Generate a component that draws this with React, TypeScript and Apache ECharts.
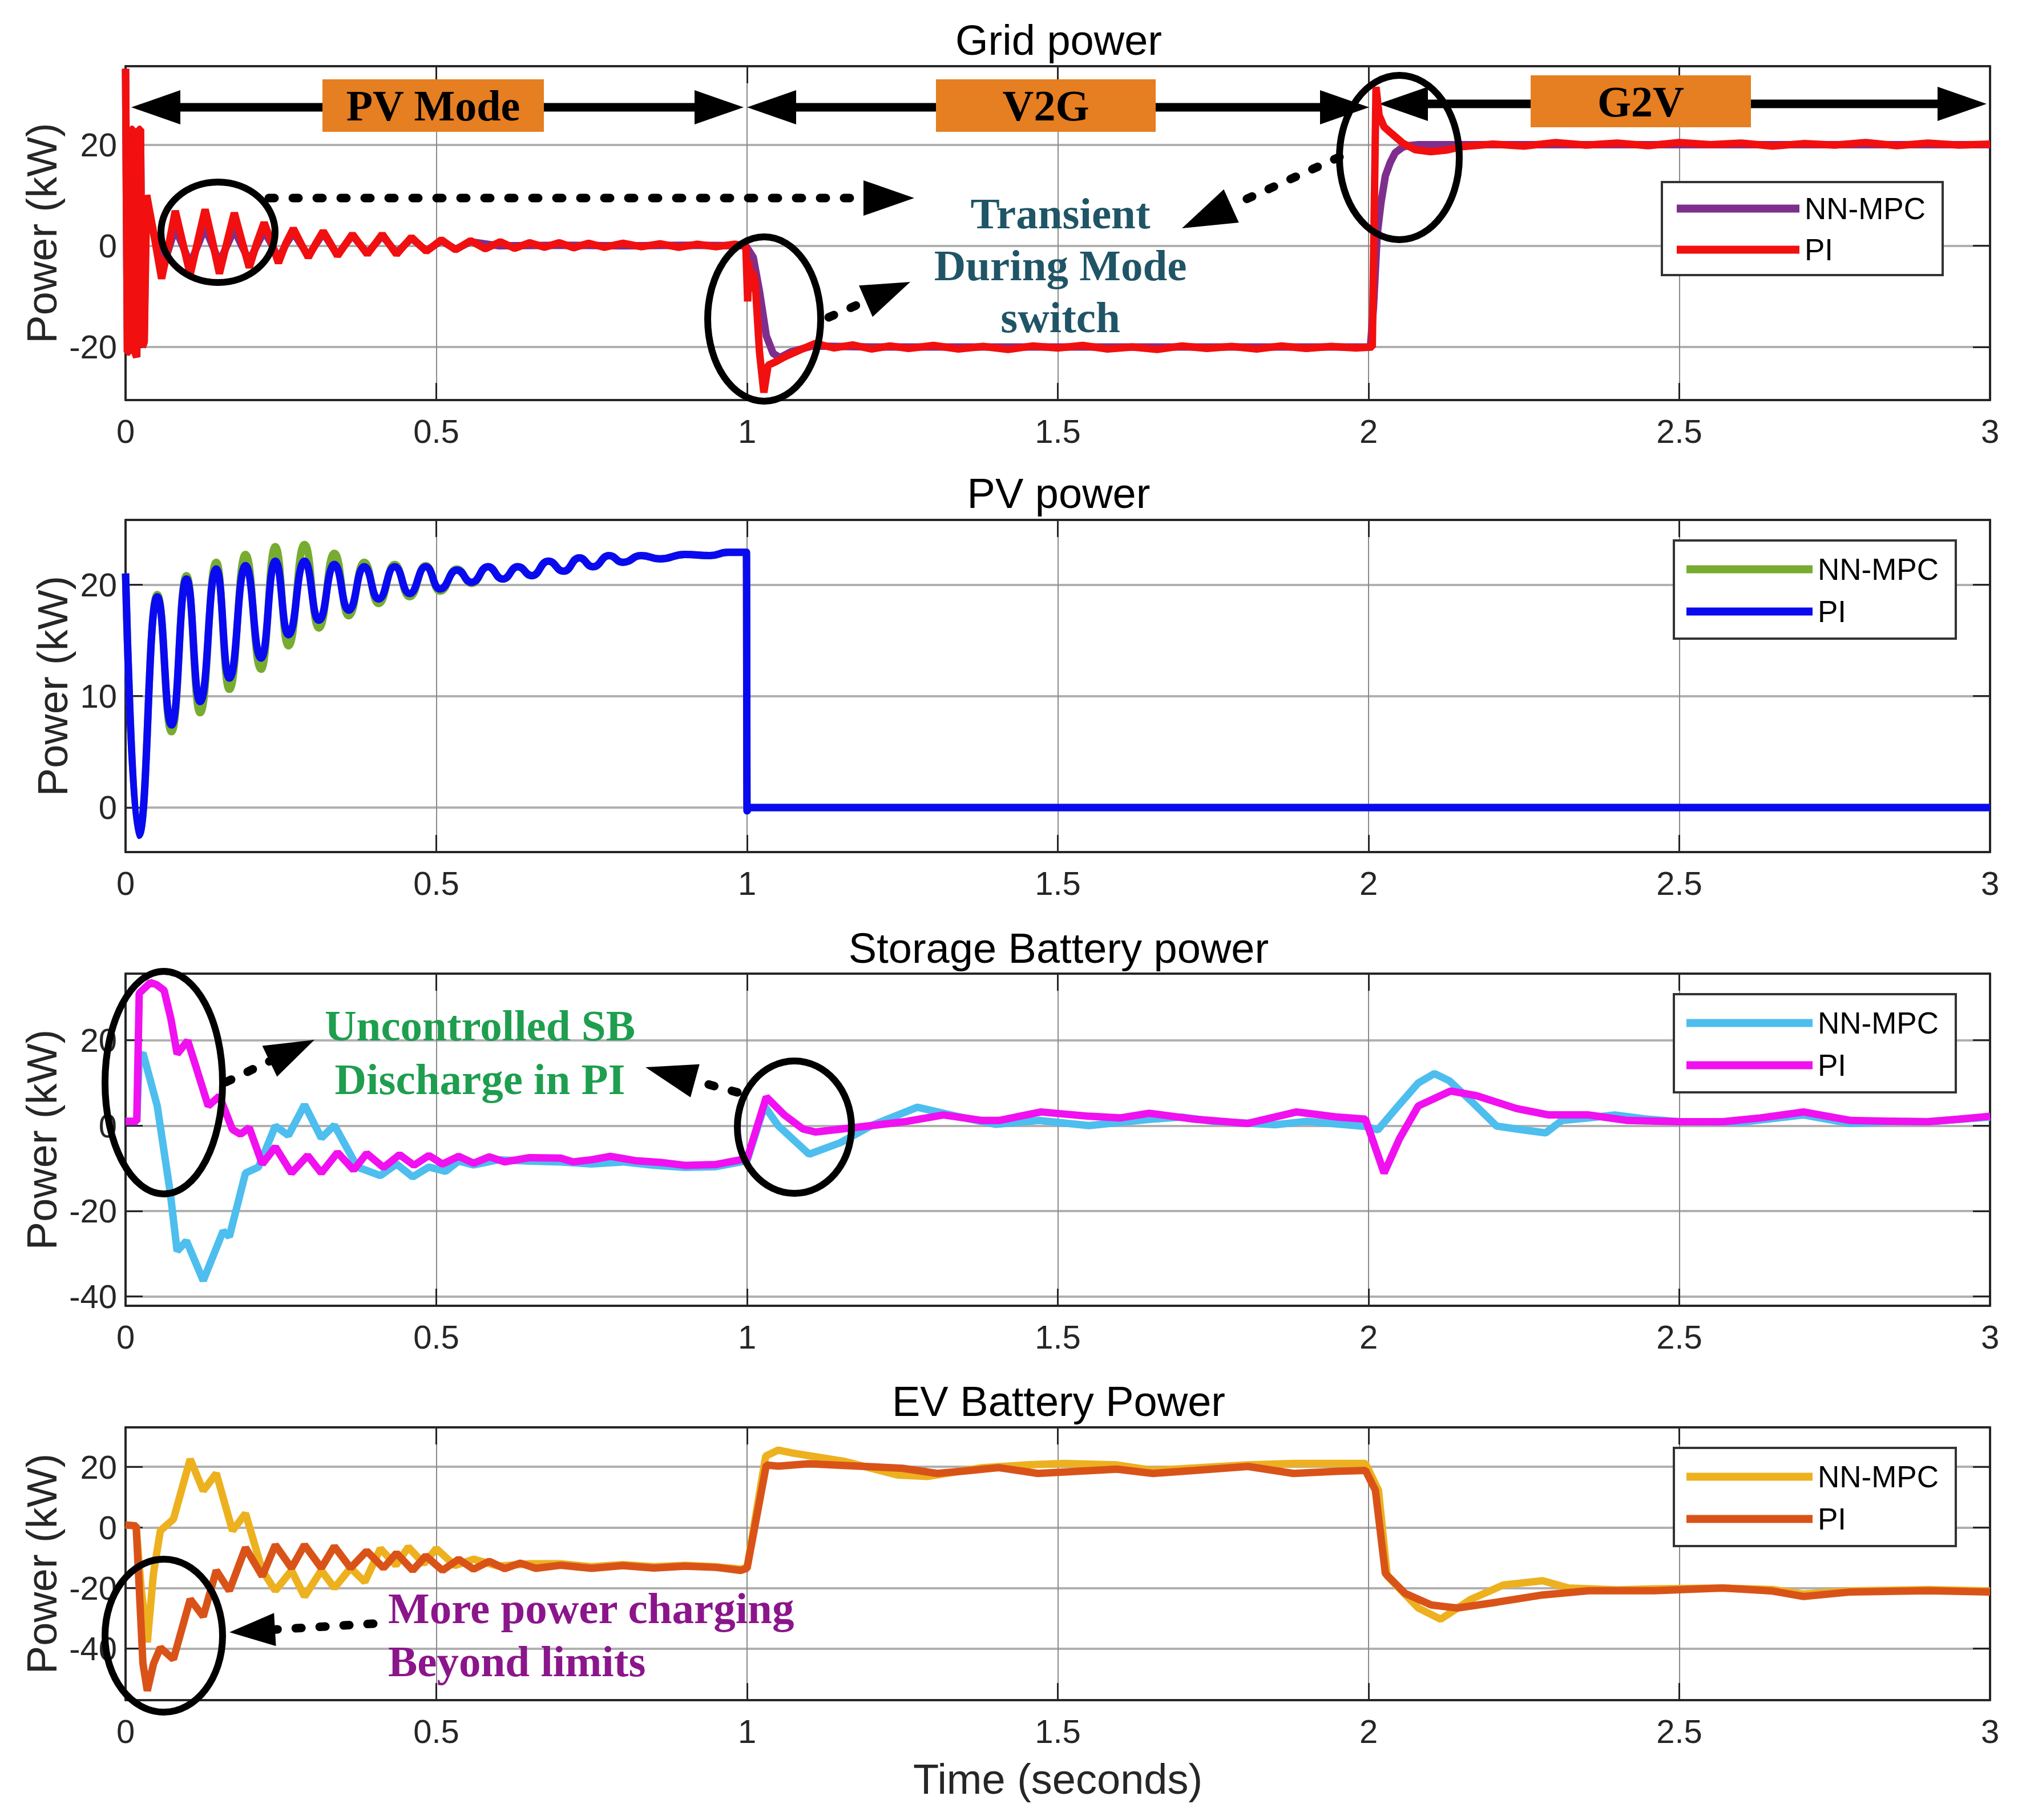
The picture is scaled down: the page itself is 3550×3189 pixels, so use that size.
import React, { useEffect, useRef } from 'react';
import * as echarts from 'echarts';

// ---------------- DATA ----------------
const xTicks = [0, 0.5, 1, 1.5, 2, 2.5, 3];
const gridYTicks = [-20, 0, 20];
const pvYTicks = [0, 10, 20];
const sbYTicks = [-40, -20, 0, 20];
const evYTicks = [-40, -20, 0, 20];

const panelTitles = ['Grid power', 'PV power', 'Storage Battery power', 'EV Battery Power'];
const legendLabels = ['NN-MPC', 'PI'];

// Grid power (kW) vs time (s)
const gridPI: [number, number][] = [
  [0, 35], [0.003, -21], [0.006, -21], [0.009, 23], [0.012, 23], [0.015, -21], [0.018, -22], [0.021, 23], [0.024, 23],
  [0.027, -20], [0.03, -19], [0.034, 10], [0.04, 6], [0.046, 2], [0.058, -6.5], [0.07, 0.5], [0.08, 6.9], [0.092, 0.6],
  [0.104, -5.7], [0.116, 0.8], [0.128, 7.2], [0.14, 0.8], [0.151, -5.5], [0.163, 0.6], [0.175, 6.5], [0.187, 1],
  [0.199, -4.3], [0.211, 0.5], [0.223, 4.6], [0.235, 0.6], [0.246, -3.4], [0.258, 0.5], [0.27, 3.4], [0.282, 0.5],
  [0.294, -2.3], [0.306, 0.4], [0.318, 2.9], [0.33, 0.4], [0.341, -2.0], [0.365, 2.3], [0.389, -1.7], [0.413, 2.3],
  [0.436, -1.7], [0.46, 1.7], [0.484, -1.1], [0.508, 1.2], [0.531, -0.8], [0.555, 1.0], [0.579, -0.6], [0.603, 0.8],
  [0.626, -0.5], [0.65, 0.6], [0.674, -0.3], [0.698, 0.6], [0.721, -0.4], [0.745, 0.5], [0.77, -0.3], [0.8, 0.5],
  [0.83, -0.2], [0.86, 0.4], [0.89, -0.3], [0.92, 0.3], [0.95, -0.2], [0.98, 0.3], [0.998, 0], [1.001, -11],
  [1.003, -3], [1.006, -9], [1.009, -5], [1.013, -7], [1.02, -21], [1.027, -29], [1.034, -23.6], [1.045, -23],
  [1.06, -22], [1.085, -20.6], [1.11, -19.3], [1.14, -20.2], [1.17, -19.6], [1.2, -20.4], [1.23, -19.8], [1.26, -20.3],
  [1.3, -19.7], [1.34, -20.4], [1.38, -19.9], [1.42, -20.5], [1.46, -19.8], [1.5, -20.2], [1.54, -19.7], [1.58, -20.4],
  [1.62, -20], [1.66, -20.5], [1.7, -19.8], [1.74, -20.3], [1.78, -19.9], [1.82, -20.4], [1.86, -19.8], [1.9, -20.3],
  [1.94, -19.9], [1.98, -20.2], [2.006, -20], [2.012, 31.4], [2.017, 25.8], [2.025, 23.5], [2.038, 22.1], [2.055, 20.3],
  [2.075, 19.0], [2.1, 18.6], [2.125, 18.9], [2.15, 19.6], [2.2, 20.1], [2.25, 19.7], [2.3, 20.4], [2.35, 19.9],
  [2.4, 20.3], [2.45, 19.8], [2.5, 20.4], [2.55, 20.0], [2.6, 20.3], [2.65, 19.7], [2.7, 20.2], [2.75, 19.9],
  [2.8, 20.4], [2.85, 19.8], [2.9, 20.3], [2.95, 19.9], [3, 20.1],
];
const gridNN: [number, number][] = [
  [0, 35], [0.003, -21], [0.006, -21], [0.009, 23], [0.012, 23], [0.015, -21], [0.018, -22], [0.021, 23], [0.024, 23],
  [0.027, -20], [0.03, -19], [0.033, 9], [0.04, 5], [0.05, 0], [0.062, -3.5], [0.08, 3.5], [0.092, 0], [0.104, -3.6],
  [0.116, 0], [0.128, 3.6], [0.14, 0], [0.151, -3.3], [0.163, 0], [0.175, 3.2], [0.187, 0], [0.199, -3], [0.211, 0],
  [0.223, 2.9], [0.235, 0.3], [0.246, -2.6], [0.258, 0.3], [0.27, 2.6], [0.282, 0.3], [0.294, -2.0], [0.318, 2.5],
  [0.341, -1.8], [0.365, 2.1], [0.389, -1.5], [0.413, 2.0], [0.436, -1.4], [0.46, 1.5], [0.484, -1.0], [0.508, 1.0],
  [0.531, -0.7], [0.555, 0.8], [0.6, 0], [0.7, 0.1], [0.8, 0], [0.9, 0.1], [0.998, 0], [1.01, -2.3], [1.02, -9],
  [1.031, -17.8], [1.042, -21.3], [1.053, -22.1], [1.07, -21], [1.105, -19.8], [1.2, -20], [1.5, -20], [1.8, -20],
  [2.003, -20], [2.008, -12], [2.014, 2.3], [2.02, 8.5], [2.027, 13.8], [2.035, 16.5], [2.043, 18.4], [2.055, 19.5],
  [2.064, 19.8], [2.08, 20], [2.5, 20], [3, 20],
];

// PV power (peaks and troughs of the oscillation)
const pvPI: [number, number][] = [
  [0, 21], [0.021, -2.5], [0.051, 18.9], [0.074, 7.4], [0.098, 20.5], [0.12, 9.5], [0.146, 21.4], [0.167, 11.6],
  [0.193, 21.7], [0.218, 13.4], [0.241, 22.1], [0.262, 15.5], [0.288, 22.1], [0.311, 16.8], [0.336, 21.8],
  [0.359, 17.7], [0.384, 21.6], [0.407, 18.7], [0.433, 21.6], [0.457, 19.2], [0.483, 21.6], [0.506, 19.6],
  [0.533, 21.3], [0.557, 20.2], [0.583, 21.6], [0.607, 20.5], [0.631, 21.6], [0.654, 20.8], [0.68, 22.1],
  [0.705, 21.2], [0.73, 22.4], [0.752, 21.6], [0.778, 22.6], [0.8, 22.0], [0.83, 22.6], [0.86, 22.3], [0.9, 22.7],
  [0.94, 22.6], [0.97, 22.9], [0.999, 22.9], [1.0, -0.3], [1.003, 0], [3, 0],
];
const pvNN: [number, number][] = [
  [0, 21], [0.021, -2.5], [0.051, 19.1], [0.074, 6.8], [0.098, 20.8], [0.12, 8.5], [0.146, 22], [0.167, 10.6],
  [0.193, 22.7], [0.218, 12.4], [0.241, 23.4], [0.262, 14.5], [0.288, 23.6], [0.311, 16.1], [0.336, 22.8],
  [0.359, 17.2], [0.384, 22.0], [0.407, 18.3], [0.433, 21.8], [0.457, 18.9], [0.483, 21.7], [0.506, 19.4],
  [0.533, 21.4], [0.557, 20.1], [0.583, 21.6], [0.607, 20.5], [0.631, 21.6], [0.654, 20.8], [0.68, 22.1],
  [0.705, 21.2], [0.73, 22.4], [0.752, 21.6], [0.778, 22.6], [0.8, 22.0], [0.83, 22.6], [0.86, 22.3], [0.9, 22.7],
  [0.94, 22.6], [0.97, 22.9], [0.999, 22.9], [1.0, -0.3], [1.003, 0], [3, 0],
];

// Storage battery power
const sbPI: [number, number][] = [
  [0, 1], [0.018, 1], [0.022, 31], [0.04, 33.5], [0.05, 33], [0.062, 31.7], [0.073, 25], [0.083, 16.8], [0.1, 19.9],
  [0.115, 13], [0.133, 4.6], [0.151, 6.9], [0.172, -0.9], [0.185, -2], [0.199, -0.5], [0.22, -9], [0.241, -5],
  [0.267, -11.1], [0.293, -7], [0.315, -11.1], [0.341, -6.3], [0.367, -10.4], [0.388, -6.5], [0.415, -9.8], [0.441, -6.8],
  [0.464, -9.3], [0.488, -7], [0.51, -9], [0.536, -7.2], [0.56, -8.8], [0.585, -7.3], [0.61, -8.5], [0.65, -7.5],
  [0.7, -7.6], [0.72, -8.5], [0.75, -8], [0.78, -7.2], [0.82, -8.2], [0.86, -8.6], [0.9, -9.3], [0.95, -9.1], [0.99, -8],
  [1.0, -7.8], [1.031, 6.7], [1.06, 2.5], [1.09, -0.8], [1.11, -1.5], [1.17, -0.5], [1.253, 0.9], [1.316, 2.5],
  [1.379, 1.2], [1.405, 1.2], [1.473, 3.2], [1.55, 2.2], [1.6, 1.8], [1.647, 2.9], [1.72, 1.5], [1.805, 0.5],
  [1.884, 3.2], [1.95, 2.0], [1.995, 1.5], [2.025, -11.1], [2.05, -3], [2.08, 4.6], [2.132, 8.1], [2.174, 7],
  [2.238, 4], [2.29, 2.5], [2.354, 2.5], [2.417, 1.2], [2.501, 0.9], [2.57, 0.9], [2.63, 1.8], [2.7, 3.2], [2.776, 1.2],
  [2.85, 1.0], [2.9, 0.9], [2.95, 1.5], [3, 2.2],
];
const sbNN: [number, number][] = [
  [0, 1], [0.018, 1], [0.022, 16], [0.028, 17], [0.051, 4.6], [0.072, -15.8], [0.083, -29.4], [0.098, -27],
  [0.125, -36.3], [0.157, -24.7], [0.167, -26], [0.193, -11.1], [0.214, -9.7], [0.241, -0.1], [0.262, -2.3],
  [0.288, 4.9], [0.315, -2.9], [0.336, 0.1], [0.373, -9.7], [0.41, -11.7], [0.436, -9], [0.462, -12], [0.488, -9.7],
  [0.515, -10.7], [0.536, -8.3], [0.56, -9.2], [0.6, -8], [0.65, -8.3], [0.7, -8.5], [0.75, -9], [0.8, -8.5],
  [0.85, -9.3], [0.9, -9.8], [0.95, -9.6], [0.99, -8.5], [1.0, -8.2], [1.028, 4.6], [1.05, 0], [1.1, -6.7], [1.15, -4],
  [1.2, 0], [1.274, 4.3], [1.337, 2.2], [1.4, 0.3], [1.47, 1.2], [1.55, 0], [1.65, 1.5], [1.7, 2.0], [1.75, 1.0],
  [1.85, 0.2], [1.9, 1.0], [1.995, -0.2], [2.015, -1], [2.05, 5], [2.08, 10], [2.106, 12.2], [2.13, 10.5], [2.164, 5.9],
  [2.206, -0.1], [2.248, -1.0], [2.285, -1.7], [2.311, 1.2], [2.354, 1.8], [2.396, 2.5], [2.45, 1.5], [2.5, 0.9],
  [2.6, 0.8], [2.7, 2.5], [2.776, 0.5], [2.85, 1.0], [2.9, 0.9], [3, 2.0],
];

// EV battery power
const evPI: [number, number][] = [
  [0, 0.8], [0.017, 0.5], [0.022, -20], [0.028, -45], [0.035, -53.9], [0.045, -45], [0.056, -39.7], [0.077, -43.5],
  [0.104, -23.7], [0.125, -29.4], [0.146, -14.2], [0.167, -20.9], [0.193, -6.7], [0.22, -16.1], [0.241, -5.8],
  [0.267, -13.4], [0.288, -5.8], [0.315, -13.4], [0.336, -6.3], [0.362, -13.4], [0.388, -7.8], [0.415, -13.4],
  [0.436, -8.5], [0.462, -14.2], [0.483, -9.4], [0.51, -14.2], [0.536, -10.5], [0.56, -13.8], [0.585, -11.2],
  [0.61, -13.6], [0.635, -11.8], [0.66, -13.5], [0.7, -12.5], [0.75, -13.5], [0.8, -12.6], [0.85, -13.4], [0.9, -12.8],
  [0.95, -13.2], [0.99, -14.2], [1.0, -13.5], [1.031, 20.6], [1.05, 20.2], [1.1, 21], [1.15, 20.5], [1.2, 20],
  [1.25, 19.5], [1.306, 17.8], [1.35, 18.6], [1.405, 19.7], [1.468, 17.8], [1.595, 19.2], [1.653, 17.8], [1.72, 18.8],
  [1.806, 20.1], [1.879, 17.8], [1.95, 18.5], [1.995, 18.8], [2.011, 12.2], [2.027, -15.2], [2.059, -21.8],
  [2.101, -25.6], [2.143, -26.6], [2.206, -24.7], [2.28, -22.3], [2.354, -20.9], [2.46, -20.9], [2.57, -20],
  [2.65, -21], [2.7, -22.8], [2.776, -21.3], [2.9, -20.9], [3, -21.3],
];
const evNN: [number, number][] = [
  [0, 0.8], [0.017, 0.5], [0.025, -20], [0.035, -37.9], [0.045, -15], [0.056, -1.1], [0.077, 2.7], [0.104, 22.5],
  [0.125, 12.1], [0.146, 17.8], [0.172, -1.1], [0.193, 4.6], [0.22, -14.2], [0.241, -20.9], [0.267, -14.2],
  [0.288, -22.8], [0.315, -14.2], [0.336, -20], [0.362, -13.4], [0.385, -18], [0.41, -7], [0.435, -12.5], [0.455, -6.5],
  [0.48, -12], [0.5, -7], [0.53, -12.6], [0.56, -10.5], [0.6, -12.8], [0.65, -12], [0.7, -12], [0.75, -13], [0.8, -12.3],
  [0.85, -13], [0.9, -12.5], [0.95, -13], [0.99, -13.8], [1.0, -13.2], [1.03, 23.5], [1.05, 25.5], [1.074, 24.5],
  [1.158, 21.7], [1.242, 17.3], [1.29, 16.8], [1.379, 19.7], [1.45, 20.6], [1.51, 21.1], [1.595, 20.6], [1.653, 18.8],
  [1.806, 20.6], [1.879, 21.1], [1.995, 21.1], [2.016, 12.2], [2.03, -16], [2.08, -26.6], [2.116, -30.3], [2.164, -23.8],
  [2.217, -19], [2.28, -17.6], [2.322, -20], [2.4, -20.6], [2.46, -20.3], [2.57, -20], [2.65, -20.5], [2.7, -22],
  [2.776, -21], [2.9, -20.5], [3, -21],
];

// ---------------- LAYOUT / STYLE ----------------
const SANS = '"Liberation Sans", Arial, sans-serif';
const SERIF = '"Liberation Serif", "Times New Roman", serif';
const AXIS_COLOR = '#262626';
const LINE_W = 13;

const gridBoxes = [
  { left: 220, top: 116, width: 3267, height: 585 },
  { left: 220, top: 911, width: 3267, height: 582 },
  { left: 220, top: 1706, width: 3267, height: 582 },
  { left: 220, top: 2501, width: 3267, height: 478 },
];
const yRanges = [
  [-30.5, 35.5],
  [-4, 25.8],
  [-42.2, 35.6],
  [-57, 33],
];
const yTickSets = [gridYTicks, pvYTicks, sbYTicks, evYTicks];
const nameGaps = [108, 88, 108, 108];
const titleY = [70, 864, 1661, 2455];
const legendPos = [
  { left: 2912, top: 319, padding: [20, 30, 18, 26], itemWidth: 215, itemGap: 19 },
  { left: 2933, top: 947, padding: [24, 30, 21, 22], itemWidth: 221, itemGap: 21 },
  { left: 2933, top: 1742, padding: [24, 30, 21, 22], itemWidth: 221, itemGap: 21 },
  { left: 2933, top: 2537, padding: [24, 30, 21, 22], itemWidth: 221, itemGap: 21 },
];

function arrowHead(tip: number[], from: number[], len: number, hw: number) {
  const dx = tip[0] - from[0];
  const dy = tip[1] - from[1];
  const d = Math.hypot(dx, dy);
  const ux = dx / d;
  const uy = dy / d;
  const bx = tip[0] - ux * len;
  const by = tip[1] - uy * len;
  return {
    base: [bx, by],
    points: [tip, [bx - uy * hw, by + ux * hw], [bx + uy * hw, by - ux * hw]],
  };
}

function dottedArrow(from: number[], tip: number[], len: number, hw: number) {
  const h = arrowHead(tip, from, len, hw);
  return [
    {
      type: 'line',
      z: 20,
      shape: { x1: from[0], y1: from[1], x2: h.base[0], y2: h.base[1] },
      style: { stroke: '#000', lineWidth: 15, lineDash: [10, 32], lineCap: 'round' },
    },
    { type: 'polygon', z: 20, shape: { points: h.points }, style: { fill: '#000' } },
  ];
}

function modeArrow(x1: number, x2: number, y: number) {
  const l = arrowHead([x1, y], [x2, y], 86, 30);
  const r = arrowHead([x2, y], [x1, y], 86, 30);
  return [
    { type: 'line', z: 1, shape: { x1: x1 + 40, y1: y, x2: x2 - 40, y2: y }, style: { stroke: '#000', lineWidth: 15 } },
    { type: 'polygon', z: 1, shape: { points: l.points }, style: { fill: '#000' } },
    { type: 'polygon', z: 1, shape: { points: r.points }, style: { fill: '#000' } },
  ];
}

function modeBox(x: number, y: number, w: number, h: number, text: string) {
  return [
    { type: 'rect', z: 1, shape: { x, y, width: w, height: h }, style: { fill: '#E67E22' } },
    {
      type: 'text',
      z: 1,
      x: x + w / 2,
      y: y + h / 2,
      style: {
        text,
        fill: '#000',
        fontFamily: SERIF,
        fontWeight: 'bold',
        fontSize: 76,
        align: 'center',
        verticalAlign: 'middle',
      },
    },
  ];
}

function ellipse(cx: number, cy: number, rx: number, ry: number) {
  return {
    type: 'ellipse',
    z: 20,
    shape: { cx, cy, rx, ry },
    style: { fill: 'transparent', stroke: '#000', lineWidth: 12 },
  };
}

function noteText(x: number, y: number, text: string, color: string, align: string, lineHeight: number) {
  return {
    type: 'text',
    z: 20,
    x,
    y,
    style: {
      text,
      fill: color,
      fontFamily: SERIF,
      fontWeight: 'bold',
      fontSize: 77,
      lineHeight,
      align,
      verticalAlign: 'middle',
    },
  };
}

function buildOption() {
  const grid = gridBoxes.map((g) => ({ ...g, show: false, containLabel: false, outerBoundsMode: 'none' }));

  const xAxis: any[] = [];
  const yAxis: any[] = [];
  gridBoxes.forEach((_, i) => {
    xAxis.push({
      type: 'value',
      gridIndex: i,
      min: 0,
      max: 3,
      interval: 0.5,
      position: 'bottom',
      axisLine: { show: true, onZero: false, lineStyle: { color: AXIS_COLOR, width: 4 } },
      axisTick: { show: true, inside: true, length: 30, lineStyle: { color: AXIS_COLOR, width: 3 } },
      axisLabel: {
        show: true,
        fontSize: 58,
        fontFamily: SANS,
        color: AXIS_COLOR,
        margin: 25,
        customValues: xTicks,
      },
      splitLine: { show: true, lineStyle: { color: '#8a8a8a', width: 2 } },
      name: i === 3 ? 'Time (seconds)' : '',
      nameLocation: 'middle',
      nameGap: 101,
      nameTextStyle: { fontSize: 74, fontFamily: SANS, color: AXIS_COLOR },
    });
    yAxis.push({
      type: 'value',
      gridIndex: i,
      min: yRanges[i][0],
      max: yRanges[i][1],
      position: 'left',
      axisLine: { show: true, onZero: false, lineStyle: { color: AXIS_COLOR, width: 4 } },
      axisTick: {
        show: true,
        inside: true,
        length: 30,
        customValues: yTickSets[i],
        lineStyle: { color: AXIS_COLOR, width: 3 },
      },
      axisLabel: {
        show: true,
        customValues: yTickSets[i],
        fontSize: 58,
        fontFamily: SANS,
        color: AXIS_COLOR,
        margin: 15,
      },
      splitLine: { show: true, lineStyle: { color: '#b0b0b0', width: 4 } },
      name: 'Power (kW)',
      nameLocation: 'middle',
      nameRotate: 90,
      nameGap: nameGaps[i],
      nameTextStyle: { fontSize: 74, fontFamily: SANS, color: AXIS_COLOR },
    });
  });
  // secondary (box) axes: top and right with inside ticks
  gridBoxes.forEach((_, i) => {
    xAxis.push({
      type: 'value',
      gridIndex: i,
      min: 0,
      max: 3,
      interval: 0.5,
      position: 'top',
      axisLine: { show: true, onZero: false, lineStyle: { color: AXIS_COLOR, width: 4 } },
      axisTick: { show: true, inside: true, length: 30, lineStyle: { color: AXIS_COLOR, width: 3 } },
      axisLabel: { show: false },
      splitLine: { show: false },
    });
    yAxis.push({
      type: 'value',
      gridIndex: i,
      min: yRanges[i][0],
      max: yRanges[i][1],
      position: 'right',
      axisLine: { show: true, onZero: false, lineStyle: { color: AXIS_COLOR, width: 4 } },
      axisTick: {
        show: true,
        inside: true,
        length: 30,
        customValues: yTickSets[i],
        lineStyle: { color: AXIS_COLOR, width: 3 },
      },
      axisLabel: { show: false, customValues: yTickSets[i] },
      splitLine: { show: false },
    });
  });

  const mk = (name: string, idx: number, data: [number, number][], color: string, z: number, smooth: number) => ({
    type: 'line',
    name,
    xAxisIndex: idx,
    yAxisIndex: idx,
    data,
    showSymbol: false,
    symbol: 'none',
    silent: true,
    smooth: smooth > 0 ? smooth : false,
    smoothMonotone: 'x',
    z,
    lineStyle: { width: LINE_W, color },
    itemStyle: { color },
    emphasis: { disabled: true },
  });

  const seriesNames = [
    ['NN-MPC (grid)', 'PI (grid)'],
    ['NN-MPC (pv)', 'PI (pv)'],
    ['NN-MPC (sb)', 'PI (sb)'],
    ['NN-MPC (ev)', 'PI (ev)'],
  ];

  const series = [
    mk(seriesNames[0][0], 0, gridNN, '#7E2F8E', 2, 0),
    mk(seriesNames[0][1], 0, gridPI, '#F20F0F', 3, 0),
    mk(seriesNames[1][0], 1, pvNN, '#77AC30', 2, 0.5),
    mk(seriesNames[1][1], 1, pvPI, '#0A0AF0', 3, 0.5),
    mk(seriesNames[2][0], 2, sbNN, '#4DBEEE', 2, 0),
    mk(seriesNames[2][1], 2, sbPI, '#F010F0', 3, 0),
    mk(seriesNames[3][0], 3, evNN, '#EDB120', 2, 0),
    mk(seriesNames[3][1], 3, evPI, '#D95319', 3, 0),
  ];

  const legend = legendPos.map((p, i) => ({
    show: true,
    orient: 'vertical',
    left: p.left,
    top: p.top,
    padding: p.padding,
    itemWidth: p.itemWidth,
    itemHeight: 14,
    itemGap: p.itemGap,
    icon: 'rect',
    selectedMode: false,
    backgroundColor: '#ffffff',
    borderColor: '#333333',
    borderWidth: 4,
    data: seriesNames[i],
    formatter: (name: string) => (name.startsWith('NN') ? legendLabels[0] : legendLabels[1]),
    textStyle: { fontSize: 53, fontFamily: SANS, color: '#000', lineHeight: 52, padding: [0, 0, 0, 4] },
  }));

  const graphic: any[] = [];
  panelTitles.forEach((t, i) => {
    graphic.push({
      type: 'text',
      z: 5,
      x: 1855,
      y: titleY[i],
      style: { text: t, fill: '#000', fontFamily: SANS, fontSize: 74, align: 'center', verticalAlign: 'middle' },
    });
  });

  // mode arrows and labels (panel 1)
  graphic.push(...modeArrow(230, 1303, 188));
  graphic.push(...modeArrow(1309, 2399, 188));
  graphic.push(...modeArrow(2416, 3481, 182));
  graphic.push(...modeBox(565, 139, 388, 92, 'PV Mode'));
  graphic.push(...modeBox(1640, 139, 385, 92, 'V2G'));
  graphic.push(...modeBox(2682, 132, 386, 91, 'G2V'));

  // ellipses
  graphic.push(ellipse(382, 407, 100, 88));
  graphic.push(ellipse(1339, 559, 99, 144));
  graphic.push(ellipse(2452, 276, 105, 144));
  graphic.push(ellipse(287, 1897, 103, 195));
  graphic.push(ellipse(1392, 1975, 100, 116));
  graphic.push(ellipse(287, 2866, 103, 134));

  // dotted arrows
  graphic.push(...dottedArrow([471, 347], [1602, 347], 89, 31));
  graphic.push(...dottedArrow([1452, 556], [1595, 494], 85, 30));
  graphic.push(...dottedArrow([2347, 275], [2071, 400], 95, 32));
  graphic.push(...dottedArrow([396, 1896], [551, 1822], 87, 30));
  graphic.push(...dottedArrow([1292, 1914], [1131, 1870], 90, 30));
  graphic.push(...dottedArrow([654, 2845], [402, 2860], 80, 29));

  // annotation texts
  graphic.push(noteText(1858, 465, 'Transient\nDuring Mode\nswitch', '#1F5566', 'center', 91));
  graphic.push(noteText(841, 1844, 'Uncontrolled SB\nDischarge in PI', '#1E9E4E', 'center', 94));
  graphic.push(noteText(680, 2864, 'More power charging\nBeyond limits', '#8B158B', 'left', 93));

  return {
    animation: false,
    backgroundColor: '#ffffff',
    grid,
    xAxis,
    yAxis,
    legend,
    series,
    graphic,
  };
}

export default function App() {
  const ref = useRef<HTMLDivElement>(null);
  useEffect(() => {
    if (!ref.current) return;
    const chart = echarts.init(ref.current, undefined, { renderer: 'svg', width: 3550, height: 3189 });
    chart.setOption(buildOption() as any);
    return () => {
      chart.dispose();
    };
  }, []);
  return (
    <div
      ref={ref}
      style={{ position: 'absolute', left: 0, top: 0, width: 3550, height: 3189, background: '#ffffff' }}
    />
  );
}
